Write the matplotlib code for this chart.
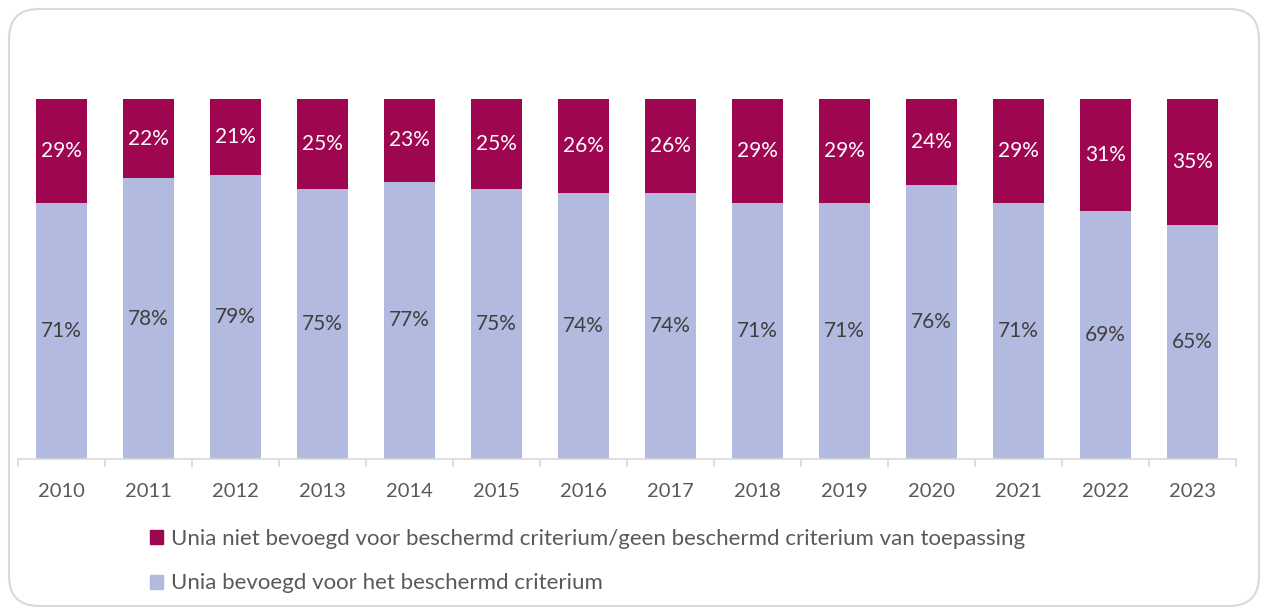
import matplotlib
matplotlib.use("Agg")
import matplotlib.pyplot as plt
from matplotlib.patches import FancyBboxPatch, Patch
from matplotlib.transforms import IdentityTransform
import numpy as np

years = ["2010", "2011", "2012", "2013", "2014", "2015", "2016",
         "2017", "2018", "2019", "2020", "2021", "2022", "2023"]
bevoegd = [71, 78, 79, 75, 77, 75, 74, 74, 71, 71, 76, 71, 69, 65]
niet_bevoegd = [29, 22, 21, 25, 23, 25, 26, 26, 29, 29, 24, 29, 31, 35]
label_top = "Unia niet bevoegd voor beschermd criterium/geen beschermd criterium van toepassing"
label_bottom = "Unia bevoegd voor het beschermd criterium"

c_top = "#9E0650"
c_bot = "#B3BADF"
grid_c = "#D9D9D9"
txt_c = "#404040"
tick_c = "#595959"

plt.rcParams['font.family'] = ['Lato', 'DejaVu Sans']

fig = plt.figure(figsize=(12.63, 6.07), dpi=100)
W, H = 1263, 607
border = FancyBboxPatch((9, 1), 1250, 597,
                        boxstyle="round,pad=0,rounding_size=30",
                        transform=IdentityTransform(), fill=False,
                        edgecolor=grid_c, linewidth=1.5)
fig.patches.append(border)

ax = fig.add_axes([18 / W, 1 - 459 / H, (1236 - 18) / W, (459 - 99) / H])
x = np.arange(len(years))
bw = 0.575
ax.bar(x, bevoegd, bw, color=c_bot, label=label_bottom)
ax.bar(x, niet_bevoegd, bw, bottom=bevoegd, color=c_top, label=label_top)
for i in range(len(years)):
    ax.text(x[i], bevoegd[i] / 2, f"{bevoegd[i]}%", ha="center", va="center",
            fontsize=15, color=txt_c)
    ax.text(x[i], bevoegd[i] + niet_bevoegd[i] / 2, f"{niet_bevoegd[i]}%",
            ha="center", va="center", fontsize=15, color="white")

ax.set_xlim(-0.5, len(years) - 0.5)
ax.set_ylim(0, 100)
ax.set_yticks([])
for s in ["top", "right", "left"]:
    ax.spines[s].set_visible(False)
ax.spines["bottom"].set_color(grid_c)
ax.spines["bottom"].set_linewidth(1.2)
ax.set_xticks(x)
ax.set_xticklabels(years, fontsize=14.5, color=tick_c)
ax.tick_params(axis="x", which="major", length=0, pad=17)
ax.set_xticks(np.arange(-0.5, len(years), 1.0), minor=True)
ax.tick_params(axis="x", which="minor", length=6, color=grid_c, width=1.2)

handles = [Patch(color=c_top), Patch(color=c_bot)]
fig.legend(handles, [label_top, label_bottom], loc="upper left",
           bbox_to_anchor=(130 / W, 1 - 509 / H), frameon=False,
           fontsize=16, handlelength=0.6, handleheight=0.6,
           handletextpad=0.35, labelspacing=1.1, labelcolor=tick_c)

fig.savefig("out.png", dpi=100)
